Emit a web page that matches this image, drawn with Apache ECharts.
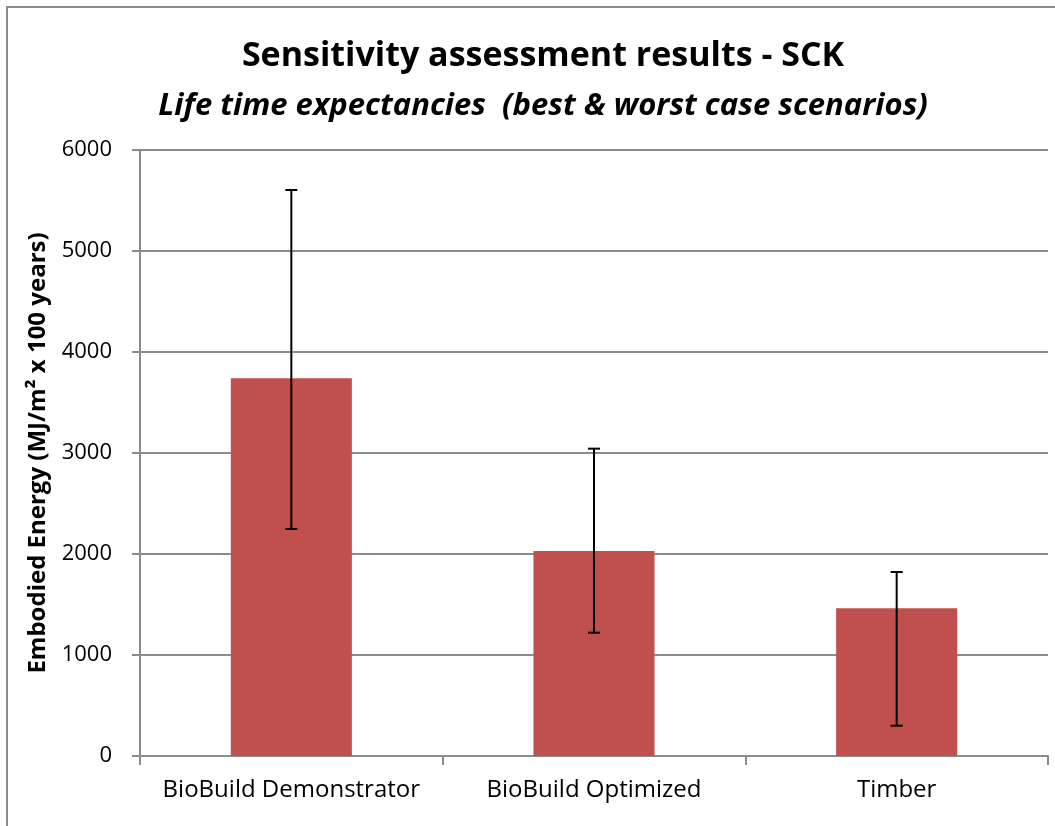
<!DOCTYPE html>
<html>
<head>
<meta charset="utf-8">
<script src="https://cdn.jsdelivr.net/npm/echarts@6/dist/echarts.min.js"></script>
<style>
html,body{margin:0;padding:0;background:#fff;}
#main{width:1055px;height:826px;}
</style>
</head>
<body>
<div id="main"></div>
<script>
var categories = ['BioBuild Demonstrator', 'BioBuild Optimized', 'Timber'];
var values = [3740, 2030, 1462];
var errHigh = [5604, 3043, 1822];
var errLow = [2248, 1221, 300];
var yTicks = [0, 1000, 2000, 3000, 4000, 5000, 6000];

var chart = echarts.init(document.getElementById('main'));

var errData = categories.map(function(c, i){ return [i, errLow[i], errHigh[i]]; });

chart.setOption({
	animation: false,
	textStyle: {fontFamily: 'Open Sans'},
	graphic: [{
		type: 'rect',
		shape: {x: 7, y: 7, width: 1100, height: 900},
		style: {fill: 'none', stroke: '#8c8c8c', lineWidth: 2}
	}],
	title: [{
		text: 'Sensitivity assessment results - SCK',
		left: 538, top: 34, textAlign: 'center',
		textStyle: {fontSize: 34, fontWeight: 'bold', color: '#000', fontFamily: 'Open Sans'}
	}, {
		text: 'Life time expectancies  (best & worst case scenarios)',
		left: 538, top: 86, textAlign: 'center',
		textStyle: {fontSize: 31, fontWeight: 'bold', fontStyle: 'italic', color: '#000', fontFamily: 'Open Sans'}
	}],
	grid: {left: 140, right: 7, top: 150, bottom: 70},
	xAxis: {
		type: 'category',
		data: categories,
		axisLine: {lineStyle: {color: '#8c8c8c', width: 2}},
		axisTick: {show: true, interval: 0, length: 9, alignWithLabel: false, lineStyle: {color: '#8c8c8c', width: 2}},
		axisLabel: {color: '#000', fontSize: 24, margin: 22, interval: 0}
	},
	yAxis: {
		type: 'value',
		min: yTicks[0], max: yTicks[yTicks.length - 1], interval: 1000,
		name: 'Embodied Energy (MJ/m² x 100 years)',
		nameLocation: 'middle', nameGap: 90,
		nameTextStyle: {fontSize: 24, fontWeight: 'bold', color: '#000'},
		axisLine: {show: true, lineStyle: {color: '#8c8c8c', width: 2}},
		axisTick: {show: true, inside: false, length: 8, lineStyle: {color: '#8c8c8c', width: 2}},
		axisLabel: {color: '#000', fontSize: 22, margin: 28, formatter: function(v){ return String(v); }},
		splitLine: {lineStyle: {color: '#8c8c8c', width: 2}}
	},
	series: [{
		type: 'bar',
		data: values,
		barWidth: '40%',
		itemStyle: {color: '#c0504d'}
	}, {
		type: 'custom',
		data: errData,
		z: 10,
		renderItem: function(params, api){
			var x = api.value(0);
			var lo = api.coord([x, api.value(1)]);
			var hi = api.coord([x, api.value(2)]);
			var cap = 6;
			var st = {stroke: '#000', lineWidth: 2};
			return {
				type: 'group',
				children: [
					{type: 'line', shape: {x1: hi[0], y1: hi[1], x2: lo[0], y2: lo[1]}, style: st},
					{type: 'line', shape: {x1: hi[0] - cap, y1: hi[1], x2: hi[0] + cap, y2: hi[1]}, style: st},
					{type: 'line', shape: {x1: lo[0] - cap, y1: lo[1], x2: lo[0] + cap, y2: lo[1]}, style: st}
				]
			};
		}
	}]
});
</script>
</body>
</html>
